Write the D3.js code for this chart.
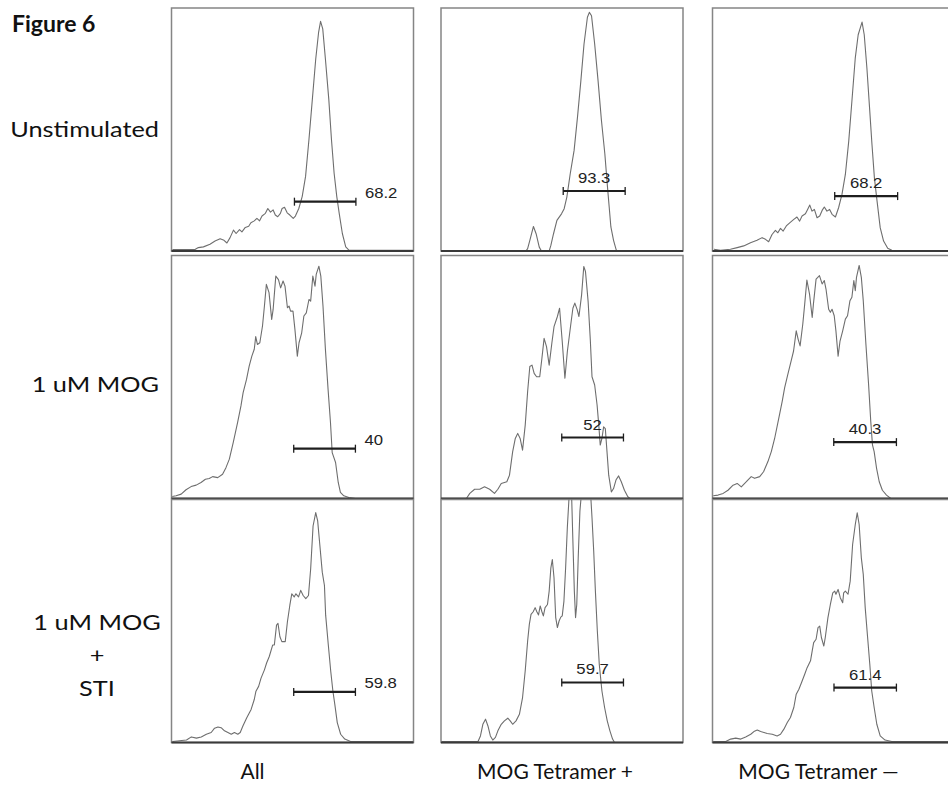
<!DOCTYPE html>
<html><head><meta charset="utf-8">
<script src="https://cdn.jsdelivr.net/npm/d3@7"></script>
<style>html,body{margin:0;padding:0;background:#fff;}svg{display:block;}</style>
</head><body>
<script>
// ---------- DATA ----------
const figureTitle = "Figure 6";
const rowLabels = [["Unstimulated"], ["1 uM MOG"], ["1 uM MOG", "+", "STI"]];
const colLabels = ["All", "MOG Tetramer +", "MOG Tetramer \u2014"];

// histogram traces: [channel (0-100), relative count (0-100)]
const curveAllUnstim = [[0.4,0.6],[9.7,0.6],[11.1,1.4],[13.2,1.7],[15.9,2.8],[18.0,4.1],[20.1,5.0],[21.7,4.4],[22.9,3.3],[24.2,5.5],[25.6,8.6],[26.7,7.2],[28.1,8.8],[29.1,7.9],[30.5,9.7],[31.9,10.2],[32.8,11.6],[34.2,12.4],[35.3,13.4],[36.4,12.4],[37.4,14.4],[38.8,15.5],[39.8,17.5],[40.9,16.0],[42.0,16.9],[42.9,14.8],[43.9,14.1],[45.0,15.5],[45.7,17.5],[46.7,18.0],[47.8,15.7],[48.9,14.8],[50.3,13.4],[51.2,14.4],[52.6,17.5],[54.0,22.4],[55.4,30.7],[56.8,45.9],[58.2,62.4],[59.6,79.0],[60.8,90.1],[61.6,94.5],[62.5,91.4],[63.6,79.0],[65.0,62.4],[66.1,45.9],[67.2,32.0],[68.3,22.4],[69.3,15.5],[70.6,7.2],[72.0,1.7],[73.4,0.3],[100,0.3]];
const curveTetPosUnstim = [[0,0],[35.1,0],[35.8,1.0],[36.9,5.1],[38.2,10.1],[39.3,7.1],[40.6,1.6],[41.5,0],[44.7,0],[45.4,2.3],[46.5,7.1],[47.9,12.6],[49.8,15.3],[50.9,17.4],[52.0,22.2],[53.4,31.8],[55.0,41.4],[56.4,55.1],[57.8,70.1],[59.1,85.2],[60.5,96.2],[61.3,98.2],[62.2,96.8],[63.5,85.2],[64.9,70.1],[66.3,53.7],[67.7,40.0],[68.8,26.3],[69.5,18.1],[70.2,9.9],[71.3,4.4],[72.4,0.5],[72.9,0],[100,0]];
const curveTetNegUnstim = [[0.6,0.7],[3.3,0.3],[7.4,0.7],[10.2,1.4],[12.9,2.1],[15.7,3.4],[18.4,4.4],[20.5,5.5],[21.9,4.8],[23.2,3.8],[24.6,6.8],[26.0,8.5],[27.0,7.5],[28.1,9.3],[29.2,8.2],[30.5,10.3],[31.9,11.6],[33.6,13.0],[34.9,14.0],[36.0,12.3],[37.0,14.4],[38.4,15.3],[39.3,17.1],[40.2,18.9],[41.1,16.4],[42.1,17.1],[43.2,13.7],[44.3,14.4],[45.3,16.7],[46.2,18.1],[47.3,16.4],[48.4,17.1],[49.4,15.1],[50.8,14.0],[52.1,17.8],[53.5,23.3],[54.9,31.5],[56.3,45.2],[57.6,61.6],[59.0,79.5],[60.2,89.0],[61.8,94.2],[62.7,89.0],[63.8,75.3],[64.9,58.9],[65.9,43.8],[66.9,30.1],[68.0,20.5],[69.3,9.6],[70.7,4.1],[72.4,1.1],[74.1,0.3],[100,0]];
const curveAllMog = [[0.3,0.8],[1.9,1.1],[4.0,1.8],[6.0,3.6],[8.1,4.9],[10.2,5.5],[12.2,6.6],[14.0,7.9],[15.6,8.2],[17.0,9.0],[19.1,8.6],[21.1,10.0],[22.5,12.7],[23.9,16.2],[25.5,23.0],[27.3,31.2],[28.7,38.1],[29.6,43.6],[31.0,49.0],[32.1,54.5],[33.2,58.6],[34.2,61.4],[34.8,66.6],[35.5,63.4],[36.5,64.1],[37.6,71.0],[38.4,79.2],[39.2,88.1],[40.3,84.7],[41.4,73.7],[42.0,77.8],[43.1,91.5],[44.2,90.1],[45.1,86.7],[46.1,89.5],[46.9,87.4],[47.9,78.5],[48.6,79.2],[49.2,77.1],[50.2,77.1],[51.0,69.6],[52.0,58.6],[52.7,64.1],[53.8,68.2],[54.7,75.1],[55.7,76.4],[56.8,81.9],[57.5,81.2],[58.4,91.5],[59.3,87.4],[59.8,92.2],[60.9,95.6],[61.7,91.5],[62.6,79.2],[63.6,61.4],[64.7,44.9],[65.7,31.2],[66.4,18.9],[67.8,14.8],[68.9,6.6],[69.8,2.5],[71.2,1.1],[73.3,0.4],[76.0,0],[100,0]];
const curveTetPosMog = [[0.3,0],[10.5,0],[11.9,2.1],[13.9,3.8],[16.0,3.8],[18.0,4.8],[20.1,3.8],[22.1,2.1],[23.5,3.8],[24.9,6.2],[27.2,6.9],[28.3,9.6],[29.6,19.2],[30.7,24.7],[31.7,26.8],[32.7,24.7],[33.7,19.9],[34.8,30.2],[35.8,44.0],[36.7,54.3],[37.6,54.9],[38.5,51.5],[39.5,50.1],[40.8,50.1],[41.7,57.7],[42.6,65.9],[43.6,62.5],[44.7,54.9],[45.8,63.9],[46.7,70.7],[48.1,74.9],[49.0,78.3],[50.1,64.6],[51.2,49.5],[52.2,60.4],[53.6,71.4],[54.5,78.3],[55.3,80.4],[56.3,77.6],[57.0,74.9],[58.1,83.8],[59.0,95.5],[59.7,93.4],[60.8,81.0],[61.7,65.2],[62.4,50.1],[63.5,46.7],[64.5,38.5],[65.2,30.2],[65.8,22.0],[66.5,24.7],[67.2,29.5],[67.9,28.8],[68.6,19.2],[69.3,9.6],[70.4,2.7],[71.3,4.1],[72.3,7.6],[73.4,9.3],[74.5,6.9],[75.8,3.4],[77.2,0.7],[78.1,0],[100,0]];
const curveTetNegMog = [[0.3,1.1],[2.3,1.4],[4.4,2.1],[6.4,3.4],[8.5,5.5],[10.2,6.2],[11.9,4.8],[14.0,6.9],[16.0,9.0],[17.4,8.3],[19.5,9.0],[21.1,11.0],[22.9,15.2],[24.3,19.3],[25.7,24.8],[27.4,33.1],[28.8,40.0],[29.8,45.5],[31.1,51.0],[32.5,56.6],[33.5,60.7],[34.6,69.0],[35.4,65.5],[36.2,62.8],[37.3,71.7],[38.1,80.0],[39.0,89.9],[40.1,84.1],[41.2,74.5],[41.7,80.0],[42.8,90.3],[44.2,91.7],[45.3,88.3],[46.2,89.7],[46.9,86.2],[48.0,77.9],[48.7,76.6],[49.4,77.9],[50.3,75.2],[51.0,69.0],[51.9,58.6],[52.7,64.8],[53.8,69.0],[54.9,73.8],[55.8,75.2],[56.8,81.4],[57.6,82.8],[58.4,89.7],[59.0,85.5],[59.5,91.0],[60.6,95.9],[61.5,91.0],[62.3,81.4],[63.4,63.4],[64.5,46.9],[65.4,31.7],[66.1,22.1],[66.8,19.3],[67.8,12.4],[68.9,6.9],[70.2,3.4],[71.9,1.4],[73.7,0],[100,0]];
const curveAllSti = [[0.4,0.4],[6.2,1.0],[8.2,2.3],[10.3,1.8],[12.3,2.3],[14.4,3.4],[16.4,4.1],[17.8,5.9],[19.2,6.4],[20.5,6.1],[21.9,4.8],[23.3,4.1],[24.7,3.4],[26.0,4.1],[27.4,3.4],[28.4,4.1],[29.5,6.8],[31.1,10.2],[32.9,13.6],[34.2,17.7],[34.9,21.1],[36.0,23.1],[37.0,26.5],[38.4,29.9],[39.3,32.7],[40.4,35.4],[41.8,40.1],[42.5,40.1],[43.4,48.3],[44.0,49.0],[44.8,43.5],[45.6,41.5],[47.0,41.5],[47.9,49.7],[48.9,56.5],[49.7,61.2],[50.7,59.9],[51.4,61.2],[52.5,59.9],[53.4,62.6],[54.4,60.5],[55.5,59.2],[56.6,60.5],[57.5,71.4],[58.5,89.1],[59.6,94.6],[60.4,91.2],[61.2,82.3],[62.3,70.1],[63.2,64.6],[63.7,52.4],[64.8,40.1],[65.8,29.3],[66.7,21.1],[67.5,15.6],[68.5,8.2],[69.9,3.4],[71.6,1.4],[74.0,0.4],[100,0.4]];
const curveTetPosSti = [[0.3,0.4],[15.3,0.4],[16.3,2.7],[17.3,7.5],[18.4,9.6],[19.4,6.8],[20.4,2.7],[21.4,1.0],[22.5,2.1],[23.5,4.8],[24.9,7.5],[26.2,8.9],[27.6,10.0],[28.6,8.9],[29.6,7.5],[31.0,8.9],[32.4,11.6],[33.7,18.5],[34.8,29.5],[35.8,41.8],[36.5,48.6],[37.2,52.7],[38.1,53.8],[38.9,55.5],[39.6,53.8],[40.3,52.5],[41.0,56.2],[41.7,53.8],[42.3,52.1],[43.0,55.5],[44.0,56.8],[44.7,62.3],[45.4,71.9],[46.0,75.3],[46.7,67.8],[47.4,51.4],[48.1,47.3],[48.8,50.0],[49.5,51.6],[50.1,52.1],[50.8,58.2],[51.5,71.9],[52.2,88.4],[52.9,100.7],[53.4,103.4],[54.0,100.7],[54.5,82.9],[55.1,62.3],[55.6,51.4],[56.1,56.8],[56.7,76.0],[57.4,95.2],[57.9,101],[61.9,101],[62.4,92.5],[63.1,78.8],[63.8,62.3],[64.6,45.9],[65.4,32.2],[66.5,21.2],[67.6,14.4],[68.7,8.9],[69.8,4.8],[70.9,1.4],[71.7,0],[100,0]];
const curveTetNegSti = [[0.3,0.4],[5.5,0.4],[7.5,1.4],[9.6,1.8],[11.7,1.4],[13.7,2.3],[15.8,3.4],[17.1,4.5],[18.5,5.1],[19.9,4.5],[21.3,4.1],[22.6,3.7],[24.7,3.4],[26.7,2.7],[28.1,3.4],[29.5,5.5],[30.9,8.2],[32.2,10.3],[33.6,14.4],[34.6,19.9],[35.7,21.9],[36.8,24.7],[38.1,28.1],[39.1,30.8],[40.5,33.6],[41.2,37.7],[41.8,41.1],[42.8,42.5],[43.6,47.3],[44.3,47.9],[45.0,43.2],[46.0,39.7],[46.6,43.2],[47.7,51.4],[48.7,56.8],[49.7,61.6],[50.5,62.3],[51.0,61.0],[51.9,63.0],[52.8,59.6],[53.8,57.5],[54.2,61.6],[54.9,62.3],[56.0,61.0],[56.9,66.4],[57.9,81.5],[59.0,89.7],[59.8,94.5],[60.6,89.7],[61.5,76.0],[62.3,69.2],[63.1,55.5],[64.1,43.2],[65.0,32.2],[65.8,21.2],[66.8,14.4],[67.9,7.5],[69.3,2.7],[71.3,1.0],[74.1,0.4],[100,0.4]];

// gate markers (row-major: row 0 col 0..2, row 1 ..., row 2 ...)
const gateValues = ["68.2", "93.3", "68.2", "40", "52", "40.3", "59.8", "59.7", "61.4"];
const gateStart  = [50.8, 50.5, 50.5, 50.5, 49.9, 50.1, 50.5, 49.9, 50.2];
const gateEnd    = [76.2, 76.1, 76.5, 76.0, 75.4, 76.0, 76.0, 75.4, 76.0];
const gateLevel  = [20.3, 24.7, 22.6, 20.5, 25.1, 23.2, 20.8, 24.7, 22.6];

const curves = [
  curveAllUnstim, curveTetPosUnstim, curveTetNegUnstim,
  curveAllMog, curveTetPosMog, curveTetNegMog,
  curveAllSti, curveTetPosSti, curveTetNegSti
];

// ---------- LAYOUT ----------
const W = 948, H = 787;
const colLefts = [171.5, 441, 712.5];
const rowTops = [8, 255.5, 499.5];
const pw = 242, ph = 243;
const stretchX = 1.15; // source figure is horizontally stretched

const svg = d3.select("body").append("svg").attr("width", W).attr("height", H);

function stretch(sel, f) {
  sel.each(function () {
    const len = this.getComputedTextLength();
    d3.select(this).attr("textLength", len * f).attr("lengthAdjust", "spacingAndGlyphs");
  });
}

const x = d3.scaleLinear().domain([0, 100]).range([0, pw]);
const y = d3.scaleLinear().domain([0, 100]).range([ph, 0]);
const line = d3.line().x(d => x(d[0])).y(d => y(d[1]));

const cal = "Lato, 'Open Sans', sans-serif";

curves.forEach((data, i) => {
  const r = Math.floor(i / 3), c = i % 3;
  const g = svg.append("g").attr("transform", `translate(${colLefts[c]},${rowTops[r]})`);
  const cid = "clip" + i;
  g.append("clipPath").attr("id", cid).append("rect").attr("x", 0).attr("y", 0).attr("width", pw).attr("height", ph);
  g.append("rect").attr("x", 0).attr("y", 0).attr("width", pw).attr("height", ph)
    .attr("fill", "#fff").attr("stroke", "#858585").attr("stroke-width", 1.5);
  g.append("path").datum(data).attr("d", line).attr("clip-path", `url(#${cid})`)
    .attr("fill", "none").attr("stroke", "#6e6e6e").attr("stroke-width", 1.1).attr("stroke-linejoin", "round");
  g.append("line").attr("x1", 0).attr("x2", pw).attr("y1", y(0)).attr("y2", y(0))
    .attr("stroke", "#3a3a3a").attr("stroke-width", 2);
  // gate
  const gy = y(gateLevel[i]), gx1 = x(gateStart[i]), gx2 = x(gateEnd[i]);
  g.append("line").attr("x1", gx1).attr("x2", gx2).attr("y1", gy).attr("y2", gy)
    .attr("stroke", "#1e1e1e").attr("stroke-width", 2.2);
  [gx1, gx2].forEach(gx => g.append("line").attr("x1", gx).attr("x2", gx).attr("y1", gy - 4).attr("y2", gy + 4)
    .attr("stroke", "#1e1e1e").attr("stroke-width", 1.3));
  const lab = g.append("text").text(gateValues[i])
    .attr("font-family", "'Liberation Sans', Arial, sans-serif").attr("font-size", 14.5).attr("fill", "#222");
  if (c === 0) {
    lab.attr("x", gx2 + 9).attr("y", gy - 3.5).attr("text-anchor", "start");
  } else {
    lab.attr("x", (gx1 + gx2) / 2).attr("y", gy - 8).attr("text-anchor", "middle");
  }
  stretch(lab, stretchX);
});

// title
svg.append("text").text(figureTitle).attr("x", 12).attr("y", 32)
  .attr("font-family", cal).attr("font-weight", "bold").attr("font-size", 23).attr("fill", "#111");

// row labels
const rowLabelY = [137, 392, 630];
rowLabels.forEach((lines, r) => {
  if (lines.length === 1) {
    stretch(svg.append("text").text(lines[0]).attr("x", 159).attr("y", rowLabelY[r])
      .attr("text-anchor", "end").attr("font-family", cal).attr("font-size", 22).attr("fill", "#111"), stretchX);
  } else {
    lines.forEach((t, k) => {
      stretch(svg.append("text").text(t).attr("x", 97).attr("y", rowLabelY[r] + k * 33)
        .attr("text-anchor", "middle").attr("font-family", cal).attr("font-size", 22).attr("fill", "#111"), stretchX);
    });
  }
});

// column labels
colLabels.forEach((t, c) => {
  svg.append("text").text(t).attr("x", colLefts[c] + [81, 114, 106][c]).attr("y", 779)
    .attr("text-anchor", "middle").attr("font-family", cal).attr("font-size", 21).attr("fill", "#111");
});
</script>
</body></html>
